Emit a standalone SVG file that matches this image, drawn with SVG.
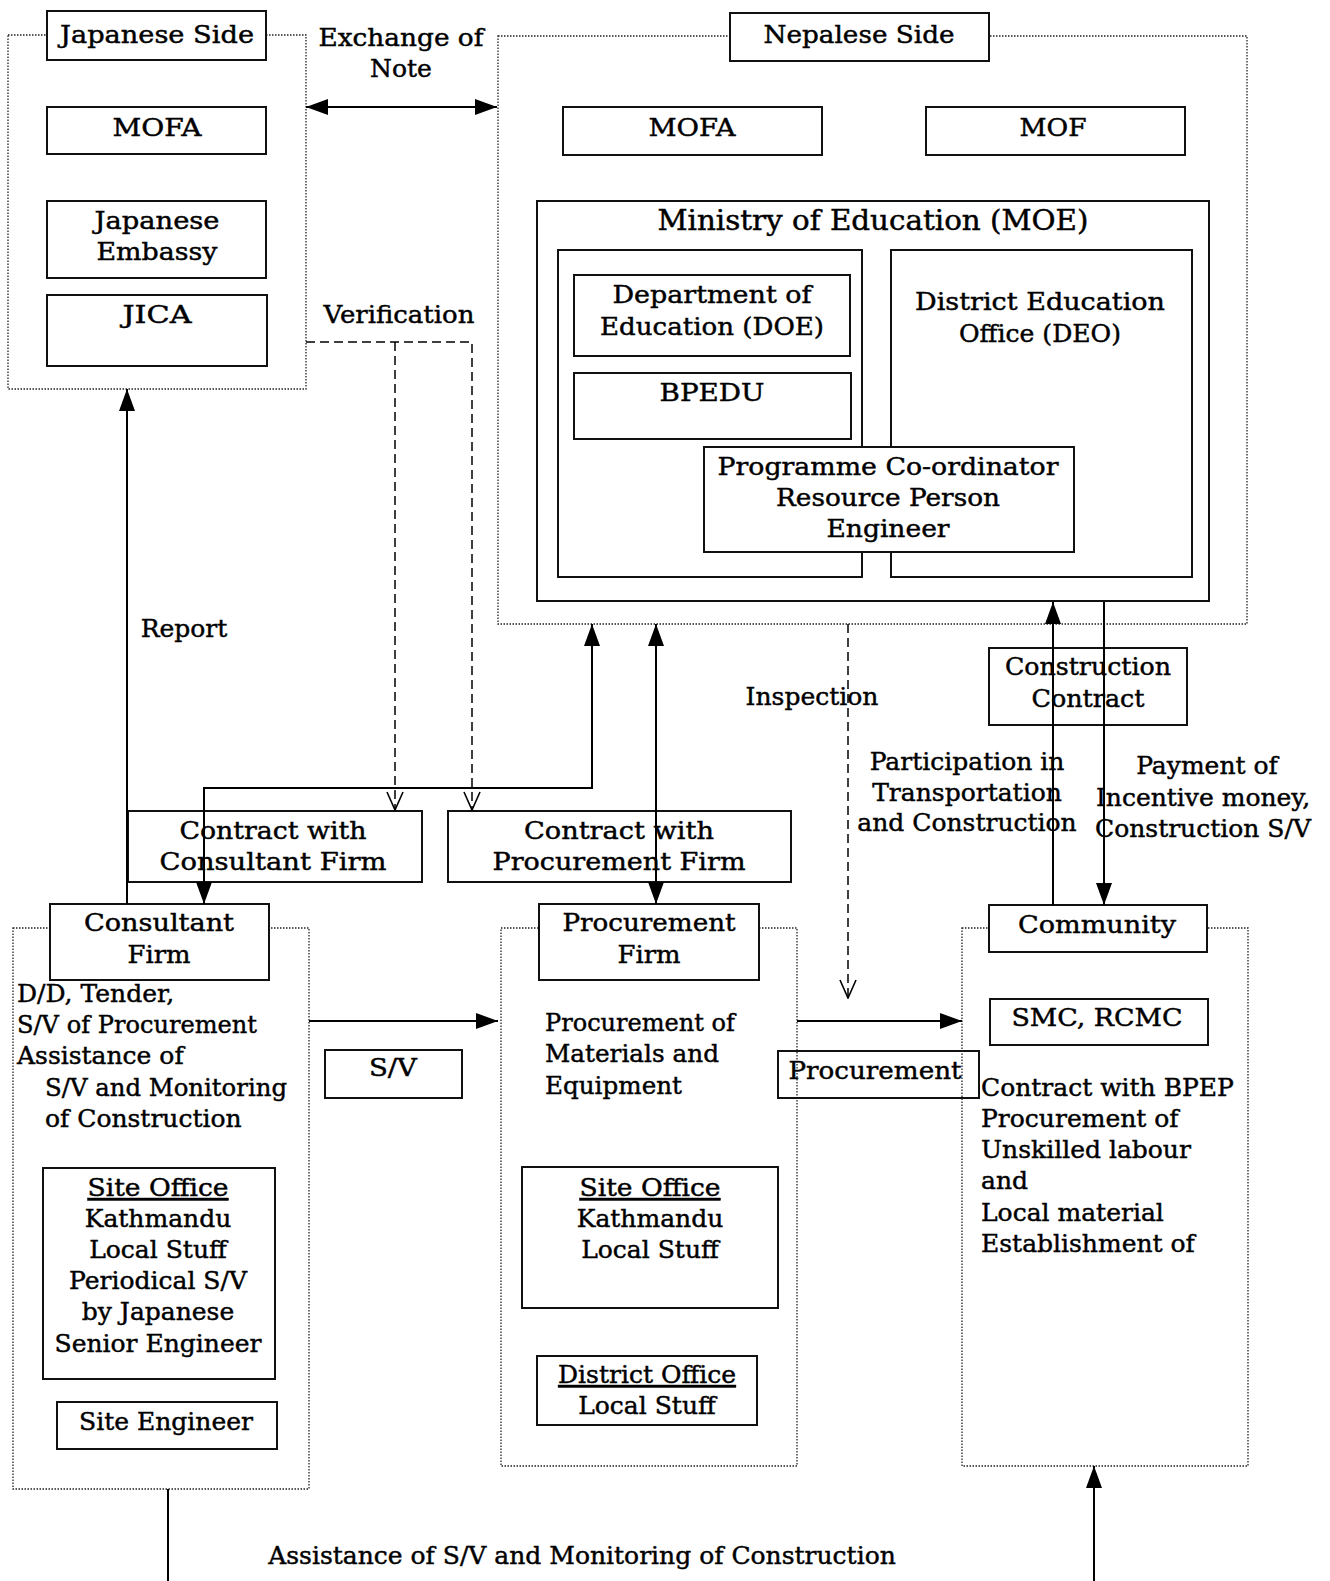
<svg xmlns="http://www.w3.org/2000/svg" width="1330" height="1581" viewBox="0 0 1330 1581">
<style>
.bg{fill:#fff}
.box{fill:none;stroke:#111;stroke-width:2}
.wbox{fill:#fff;stroke:#111;stroke-width:2}
.cont{fill:none;stroke:#222;stroke-width:1.3;stroke-dasharray:1.5 1.5}
.t{font-family:"DejaVu Serif",serif;font-size:25px;fill:#000;stroke:#000;stroke-width:0.45;text-anchor:middle}
.l{text-anchor:start}
.u{text-decoration:underline}
.ln{fill:none;stroke:#000;stroke-width:2}
.dl{fill:none;stroke:#000;stroke-width:1.5;stroke-dasharray:9 5}
</style>
<defs>
<marker id="ah" viewBox="0 0 22 16" refX="22" refY="8" markerWidth="22" markerHeight="16" markerUnits="userSpaceOnUse" orient="auto-start-reverse"><path d="M0,0 L22,8 L0,16 z" fill="#000"/></marker>
<marker id="ov" viewBox="0 0 20 18" refX="19" refY="9" markerWidth="20" markerHeight="18" markerUnits="userSpaceOnUse" orient="auto"><path d="M1,1 L19,9 L1,17" fill="none" stroke="#000" stroke-width="1.6"/></marker>
</defs>
<rect class="bg" x="0" y="0" width="1330" height="1581"/>

<g id="japanese-side">
<rect class="cont" x="8" y="35" width="298" height="354"/>
<rect class="wbox" x="47" y="11" width="219" height="49"/>
<text class="t" x="157" y="43" textLength="194" lengthAdjust="spacingAndGlyphs">Japanese Side</text>
</g>
<g id="mofa-j"><rect class="box" x="47" y="107" width="219" height="47"/><text class="t" x="157" y="136" textLength="89" lengthAdjust="spacingAndGlyphs">MOFA</text></g>
<g id="embassy"><rect class="box" x="47" y="201" width="219" height="77"/><text class="t" x="157" y="229" textLength="125" lengthAdjust="spacingAndGlyphs">Japanese</text><text class="t" x="157" y="260" textLength="121" lengthAdjust="spacingAndGlyphs">Embassy</text></g>
<g id="jica"><rect class="box" x="47" y="295" width="220" height="71"/><text class="t" x="157" y="323" textLength="69" lengthAdjust="spacingAndGlyphs">JICA</text></g>

<g id="nepalese-side">
<rect class="cont" x="498" y="36" width="749" height="588"/>
<rect class="wbox" x="730" y="13" width="259" height="48"/>
<text class="t" x="859" y="43" textLength="191" lengthAdjust="spacingAndGlyphs">Nepalese Side</text>
</g>
<g id="mofa-n"><rect class="box" x="563" y="107" width="259" height="48"/><text class="t" x="692" y="136" textLength="87" lengthAdjust="spacingAndGlyphs">MOFA</text></g>
<g id="mof"><rect class="box" x="926" y="107" width="259" height="48"/><text class="t" x="1053" y="136" textLength="67" lengthAdjust="spacingAndGlyphs">MOF</text></g>
<g id="moe"><rect class="box" x="537" y="201" width="672" height="400"/><text class="t" x="873" y="230" style="font-size:27px" textLength="431" lengthAdjust="spacingAndGlyphs">Ministry of Education (MOE)</text></g>
<g id="doe-group"><rect class="box" x="558" y="250" width="304" height="327"/></g>
<g id="doe"><rect class="box" x="574" y="275" width="276" height="81"/><text class="t" x="712" y="303" textLength="199" lengthAdjust="spacingAndGlyphs">Department of</text><text class="t" x="712" y="335" textLength="224" lengthAdjust="spacingAndGlyphs">Education (DOE)</text></g>
<g id="bpedu"><rect class="box" x="574" y="373" width="277" height="66"/><text class="t" x="712" y="401" textLength="105" lengthAdjust="spacingAndGlyphs">BPEDU</text></g>
<g id="deo"><rect class="box" x="891" y="250" width="301" height="327"/><text class="t" x="1040" y="310" textLength="250" lengthAdjust="spacingAndGlyphs">District Education</text><text class="t" x="1040" y="342" textLength="162" lengthAdjust="spacingAndGlyphs">Office (DEO)</text></g>
<g id="programme"><rect class="wbox" x="704" y="447" width="370" height="105"/><text class="t" x="888" y="475" textLength="341" lengthAdjust="spacingAndGlyphs">Programme Co-ordinator</text><text class="t" x="888" y="506" textLength="224" lengthAdjust="spacingAndGlyphs">Resource Person</text><text class="t" x="888" y="537" textLength="123" lengthAdjust="spacingAndGlyphs">Engineer</text></g>

<g id="contract-consultant"><rect class="box" x="128" y="811" width="294" height="71"/><text class="t" x="273" y="839" textLength="187" lengthAdjust="spacingAndGlyphs">Contract with</text><text class="t" x="273" y="870" textLength="227" lengthAdjust="spacingAndGlyphs">Consultant Firm</text></g>
<g id="contract-procurement"><rect class="box" x="448" y="811" width="343" height="71"/><text class="t" x="619" y="839" textLength="190" lengthAdjust="spacingAndGlyphs">Contract with</text><text class="t" x="619" y="870" textLength="253" lengthAdjust="spacingAndGlyphs">Procurement Firm</text></g>
<g id="construction-contract"><rect class="box" x="989" y="648" width="198" height="77"/><text class="t" x="1088" y="675" textLength="166" lengthAdjust="spacingAndGlyphs">Construction</text><text class="t" x="1088" y="707" textLength="113" lengthAdjust="spacingAndGlyphs">Contract</text></g>

<g id="consultant-firm">
<rect class="cont" x="13" y="928" width="296" height="561"/>
<rect class="wbox" x="50" y="904" width="219" height="76"/>
<text class="t" x="159" y="931" textLength="150" lengthAdjust="spacingAndGlyphs">Consultant</text><text class="t" x="159" y="963" textLength="63" lengthAdjust="spacingAndGlyphs">Firm</text>
<text class="t l" x="17" y="1002">D/D, Tender,</text>
<text class="t l" x="17" y="1033" textLength="240" lengthAdjust="spacingAndGlyphs">S/V of Procurement</text>
<text class="t l" x="17" y="1064">Assistance of</text>
<text class="t l" x="45" y="1096" textLength="242" lengthAdjust="spacingAndGlyphs">S/V and Monitoring</text>
<text class="t l" x="45" y="1127">of Construction</text>
</g>
<g id="site-office-c"><rect class="box" x="43" y="1168" width="232" height="211"/>
<text class="t u" x="158" y="1196" textLength="141" lengthAdjust="spacingAndGlyphs">Site Office</text><text class="t" x="158" y="1227">Kathmandu</text><text class="t" x="158" y="1258">Local Stuff</text><text class="t" x="158" y="1289">Periodical S/V</text><text class="t" x="158" y="1320">by Japanese</text><text class="t" x="158" y="1352">Senior Engineer</text></g>
<g id="site-engineer"><rect class="box" x="57" y="1402" width="220" height="47"/><text class="t" x="166" y="1430">Site Engineer</text></g>
<g id="sv"><rect class="box" x="325" y="1050" width="137" height="48"/><text class="t" x="393" y="1076" textLength="48" lengthAdjust="spacingAndGlyphs">S/V</text></g>

<g id="procurement-firm">
<rect class="cont" x="501" y="928" width="296" height="538"/>
<rect class="wbox" x="539" y="904" width="220" height="76"/>
<text class="t" x="649" y="931" textLength="173" lengthAdjust="spacingAndGlyphs">Procurement</text><text class="t" x="649" y="963" textLength="63" lengthAdjust="spacingAndGlyphs">Firm</text>
<text class="t l" x="545" y="1031" textLength="190" lengthAdjust="spacingAndGlyphs">Procurement of</text>
<text class="t l" x="545" y="1062" textLength="174" lengthAdjust="spacingAndGlyphs">Materials and</text>
<text class="t l" x="545" y="1094" textLength="137" lengthAdjust="spacingAndGlyphs">Equipment</text>
</g>
<g id="site-office-p"><rect class="box" x="522" y="1167" width="256" height="141"/><text class="t u" x="650" y="1196" textLength="141" lengthAdjust="spacingAndGlyphs">Site Office</text><text class="t" x="650" y="1227">Kathmandu</text><text class="t" x="650" y="1258">Local Stuff</text></g>
<g id="district-office"><rect class="box" x="537" y="1356" width="220" height="69"/><text class="t u" x="647" y="1383">District Office</text><text class="t" x="647" y="1414">Local Stuff</text></g>
<g id="procurement-label"><rect class="box" x="778" y="1051" width="201" height="47"/><text class="t" x="875" y="1079" textLength="173" lengthAdjust="spacingAndGlyphs">Procurement</text></g>

<g id="community">
<rect class="cont" x="962" y="928" width="286" height="538"/>
<rect class="wbox" x="989" y="905" width="218" height="47"/>
<text class="t" x="1097" y="933" textLength="158" lengthAdjust="spacingAndGlyphs">Community</text>
<text class="t l" x="981" y="1096">Contract with BPEP</text>
<text class="t l" x="981" y="1127">Procurement of</text>
<text class="t l" x="981" y="1158">Unskilled labour</text>
<text class="t l" x="981" y="1189">and</text>
<text class="t l" x="981" y="1221">Local material</text>
<text class="t l" x="981" y="1252">Establishment of</text>
</g>
<g id="smc"><rect class="box" x="990" y="999" width="218" height="46"/><text class="t" x="1097" y="1026" textLength="171" lengthAdjust="spacingAndGlyphs">SMC, RCMC</text></g>

<g id="connectors">
<line class="ln" x1="306" y1="107" x2="497" y2="107" marker-start="url(#ah)" marker-end="url(#ah)"/>
<path class="dl" d="M306,342 H472 V810" marker-end="url(#ov)"/>
<path class="dl" d="M395,342 V810" marker-end="url(#ov)"/>
<line class="ln" x1="127" y1="904" x2="127" y2="389" marker-end="url(#ah)"/>
<path class="ln" d="M204,904 V788 H592 V624" marker-start="url(#ah)" marker-end="url(#ah)"/>
<line class="ln" x1="656" y1="904" x2="656" y2="624" marker-start="url(#ah)" marker-end="url(#ah)"/>
<path class="dl" d="M848,624 V998" marker-end="url(#ov)"/>
<line class="ln" x1="1053" y1="905" x2="1053" y2="602" marker-end="url(#ah)"/>
<line class="ln" x1="1104" y1="602" x2="1104" y2="905" marker-end="url(#ah)"/>
<line class="ln" x1="309" y1="1021" x2="498" y2="1021" marker-end="url(#ah)"/>
<line class="ln" x1="797" y1="1021" x2="962" y2="1021" marker-end="url(#ah)"/>
<line class="ln" x1="168" y1="1489" x2="168" y2="1581"/>
<line class="ln" x1="1094" y1="1581" x2="1094" y2="1466" marker-end="url(#ah)"/>
</g>

<g id="labels">
<text class="t" x="401" y="46" textLength="165" lengthAdjust="spacingAndGlyphs">Exchange of</text>
<text class="t" x="401" y="77">Note</text>
<text class="t" x="399" y="323" textLength="151" lengthAdjust="spacingAndGlyphs">Verification</text>
<text class="t" x="184" y="637">Report</text>
<text class="t" x="812" y="705">Inspection</text>
<text class="t" x="967" y="770">Participation in</text>
<text class="t" x="967" y="801">Transportation</text>
<text class="t" x="967" y="831">and Construction</text>
<text class="t" x="1207" y="774">Payment of</text>
<text class="t" x="1203" y="806">Incentive money,</text>
<text class="t" x="1203" y="837">Construction S/V</text>
<text class="t" x="582" y="1564">Assistance of S/V and Monitoring of Construction</text>
</g>
</svg>
